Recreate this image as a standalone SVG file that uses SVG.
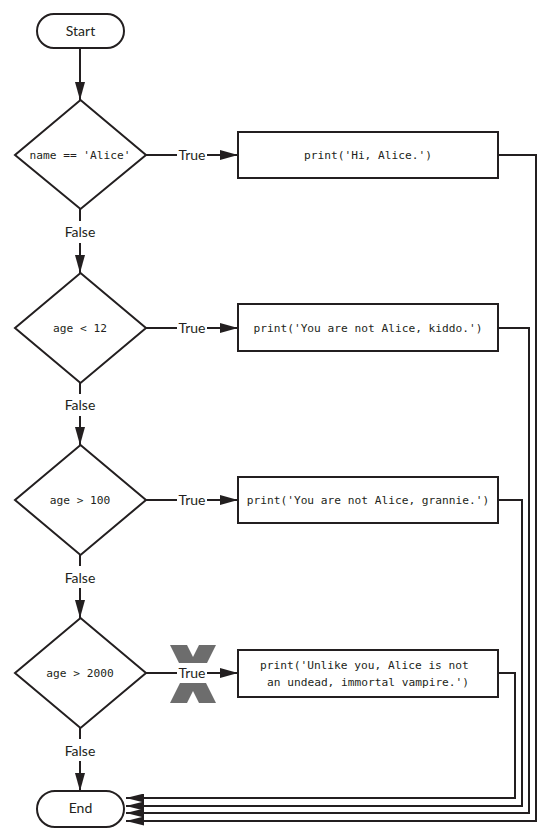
<svg xmlns="http://www.w3.org/2000/svg" width="553" height="836" viewBox="0 0 553 836">
<style>
.shape{fill:#fff;stroke:#231f20;stroke-width:2}
.line{fill:none;stroke:#231f20;stroke-width:2}
.arr{marker-end:url(#ah)}
.ret{marker-end:url(#ah2)}
.lbl{font-family:Lato,"Liberation Sans",sans-serif;font-size:14px;fill:#231f20;text-anchor:middle}
.code{font-family:"DejaVu Sans Mono","Liberation Mono",monospace;font-size:11.2px;fill:#231f20;text-anchor:middle}
.codel{font-family:"DejaVu Sans Mono","Liberation Mono",monospace;font-size:11.2px;fill:#231f20}
</style>
<defs>
<marker id="ah" markerUnits="userSpaceOnUse" markerWidth="18" markerHeight="10" refX="18" refY="5" orient="auto"><path d="M0,0 L18,5 L0,10 z" fill="#231f20"/></marker>
<marker id="ah2" markerUnits="userSpaceOnUse" markerWidth="18" markerHeight="9" refX="18" refY="4.5" orient="auto"><path d="M0,0 L18,4.5 L0,9 z" fill="#231f20"/></marker>
</defs>
<rect width="553" height="836" fill="#fff"/>
<g id="xmark">
<polygon points="170,645 187,645 216,703 199,703" fill="#6d6d6d"/>
<polygon points="199,645 216,645 187,703 170,703" fill="#6d6d6d"/>
<rect x="160" y="663" width="70" height="20" fill="#fff"/>
</g>
<g id="connectors">
<path class="line arr" d="M80,49 V100"/>
<path class="line" d="M80,209 V221"/>
<path class="line arr" d="M80,243 V273"/>
<path class="line" d="M80,383 V394"/>
<path class="line arr" d="M80,416 V445"/>
<path class="line" d="M80,555 V566"/>
<path class="line arr" d="M80,588 V618"/>
<path class="line" d="M80,728 V739"/>
<path class="line arr" d="M80,761 V791"/>
<path class="line" d="M146,155 H177"/>
<path class="line arr" d="M207,155 H238"/>
<path class="line" d="M146,328 H177"/>
<path class="line arr" d="M207,328 H238"/>
<path class="line" d="M146,500 H177"/>
<path class="line arr" d="M207,500 H238"/>
<path class="line" d="M146,673 H177"/>
<path class="line arr" d="M207,673 H238"/>
<path class="line ret" d="M498,155 H536 V821 H126"/>
<path class="line ret" d="M498,328 H529 V813 H126"/>
<path class="line ret" d="M498,500 H522 V806 H126"/>
<path class="line ret" d="M498,673 H515 V798 H126"/>
<text class="lbl" x="80" y="237">False</text>
<text class="lbl" x="80" y="410">False</text>
<text class="lbl" x="80" y="583">False</text>
<text class="lbl" x="80" y="756">False</text>
<text class="lbl" x="192" y="160">True</text>
<text class="lbl" x="192" y="333">True</text>
<text class="lbl" x="192" y="505">True</text>
<text class="lbl" x="192" y="678">True</text>
</g>
<g id="start">
<rect class="shape" x="37" y="14" width="87" height="34" rx="17"/>
<text class="lbl" x="80.5" y="36">Start</text>
</g>
<g id="cond1">
<polygon class="shape" points="80.5,100 146,155 80.5,209 15,155"/>
<text class="code" x="80" y="159">name == 'Alice'</text>
</g>
<g id="print1">
<rect class="shape" x="238" y="132" width="260" height="46"/>
<text class="code" x="368" y="159">print('Hi, Alice.')</text>
</g>
<g id="cond2">
<polygon class="shape" points="80.5,273 146,328 80.5,383 15,328"/>
<text class="code" x="80" y="332">age &lt; 12</text>
</g>
<g id="print2">
<rect class="shape" x="238" y="304" width="260" height="47"/>
<text class="code" x="368" y="332">print('You are not Alice, kiddo.')</text>
</g>
<g id="cond3">
<polygon class="shape" points="80.5,445 146,500 80.5,555 15,500"/>
<text class="code" x="80" y="504">age &gt; 100</text>
</g>
<g id="print3">
<rect class="shape" x="238" y="477" width="260" height="46"/>
<text class="code" x="368" y="504">print('You are not Alice, grannie.')</text>
</g>
<g id="cond4">
<polygon class="shape" points="80.5,618 146,673 80.5,728 15,673"/>
<text class="code" x="80" y="677">age &gt; 2000</text>
</g>
<g id="print4">
<rect class="shape" x="238" y="650" width="260" height="47"/>
<text class="codel" x="260" y="669">print('Unlike you, Alice is not</text>
<text class="codel" x="267" y="686">an undead, immortal vampire.')</text>
</g>
<g id="end">
<rect class="shape" x="37" y="791" width="87" height="36" rx="18"/>
<text class="lbl" x="80.5" y="813">End</text>
</g>
</svg>
